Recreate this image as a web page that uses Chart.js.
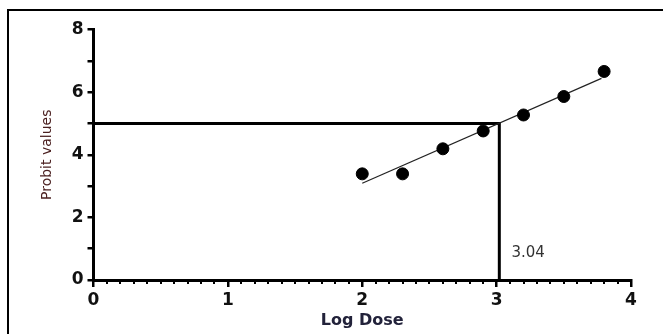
<!DOCTYPE html>
<html>
<head>
<meta charset="utf-8">
<script src="https://cdn.jsdelivr.net/npm/chart.js@4/dist/chart.umd.min.js"></script>
<style>
  body { margin: 0; background: #fff; }
  #wrap { position: relative; width: 663px; height: 334px; }
  #frame { position: absolute; left: 7px; top: 9px; right: 0; bottom: 0;
           border-left: 2px solid #000; border-top: 2px solid #000; pointer-events: none; }
</style>
</head>
<body>
<div id="wrap">
  <canvas id="probitChart" width="663" height="334"></canvas>
  <div id="frame"></div>
</div>
<script>
// observed points
const logDose = [2.0, 2.3, 2.6, 2.9, 3.2, 3.5, 3.8];
const probit = [3.39, 3.39, 4.19, 4.76, 5.27, 5.86, 6.66];

// fitted line, read at its two ends
const fitX = [2.0, 3.78];
const fitY = [3.09, 6.44];

// LD50 guide lines (probit 5)
const guideX = [0, 3.02, 3.02];
const guideY = [5, 5, 0];
const cutLabel = "3.04";
const cutLabelX = 3.11;
const cutLabelY = 0.86;

const xTicks = [0, 1, 2, 3, 4];
const yTicks = [0, 2, 4, 6, 8];

const toPoints = (xs, ys) => xs.map((x, i) => ({ x, y: ys[i] }));

const minorTicks = {
  id: "minorTicks",
  afterDraw(chart) {
    const xs = chart.scales.x, c = chart.ctx;
    c.save();
    c.strokeStyle = "#000";
    c.lineWidth = 2;
    for (let i = 1; i < 40; i++) {
      if (i % 10 === 0) continue;
      const px = Math.round(xs.getPixelForValue(i / 10));
      c.beginPath();
      c.moveTo(px, xs.top);
      c.lineTo(px, xs.top + 4);
      c.stroke();
    }
    c.restore();
  }
};

const cutText = {
  id: "cutText",
  afterDraw(chart) {
    const c = chart.ctx;
    c.save();
    c.font = "15px 'DejaVu Sans'";
    c.fillStyle = "#333";
    c.textAlign = "left";
    c.textBaseline = "middle";
    c.fillText(cutLabel, chart.scales.x.getPixelForValue(cutLabelX), chart.scales.y.getPixelForValue(cutLabelY));
    c.restore();
  }
};

new Chart(document.getElementById("probitChart"), {
  type: "scatter",
  data: {
    datasets: [
      {
        data: toPoints(logDose, probit),
        backgroundColor: "#000",
        borderColor: "#000",
        pointRadius: 6,
        pointHoverRadius: 6,
        order: 1
      },
      {
        data: toPoints(fitX, fitY),
        showLine: true,
        borderColor: "#222",
        borderWidth: 1.2,
        pointRadius: 0,
        order: 2
      },
      {
        data: toPoints(guideX, guideY),
        showLine: true,
        borderColor: "#000",
        borderWidth: 3,
        pointRadius: 0,
        order: 3
      }
    ]
  },
  options: {
    responsive: false,
    animation: false,
    events: [],
    layout: { padding: { top: 29.5, right: 32, left: 0, bottom: 0 } },
    plugins: { legend: { display: false }, tooltip: { enabled: false } },
    scales: {
      x: {
        type: "linear",
        min: 0,
        max: 4,
        afterBuildTicks: s => { s.ticks = xTicks.map(v => ({ value: v })); },
        afterFit: s => { s.height = 54; },
        border: { display: true, color: "#000", width: 3 },
        grid: { drawOnChartArea: false, color: "#000", lineWidth: 2.5, tickLength: 7 },
        ticks: {
          color: "#111",
          padding: 3,
          maxRotation: 0,
          font: { family: "'DejaVu Sans'", size: 17, weight: "bold" }
        },
        title: {
          display: true,
          text: "Log Dose",
          color: "#22223a",
          padding: { top: 0, bottom: 4 },
          font: { family: "'DejaVu Sans'", size: 16, weight: "bold" }
        }
      },
      y: {
        min: 0,
        max: 8,
        afterFit: s => { s.width = 93.5; },
        border: { display: true, color: "#000", width: 3 },
        grid: { drawOnChartArea: false, color: "#000", lineWidth: 2.5, tickLength: 6 },
        ticks: {
          stepSize: 1,
          color: "#111",
          padding: 4,
          callback: v => (yTicks.includes(v) ? v : ""),
          font: { family: "'DejaVu Sans'", size: 17, weight: "bold" }
        },
        title: {
          display: true,
          text: "Probit values",
          color: "#4b2020",
          padding: { top: 39, bottom: 0 },
          font: { family: "'DejaVu Sans'", size: 14 }
        }
      }
    }
  },
  plugins: [minorTicks, cutText]
});
</script>
</body>
</html>
